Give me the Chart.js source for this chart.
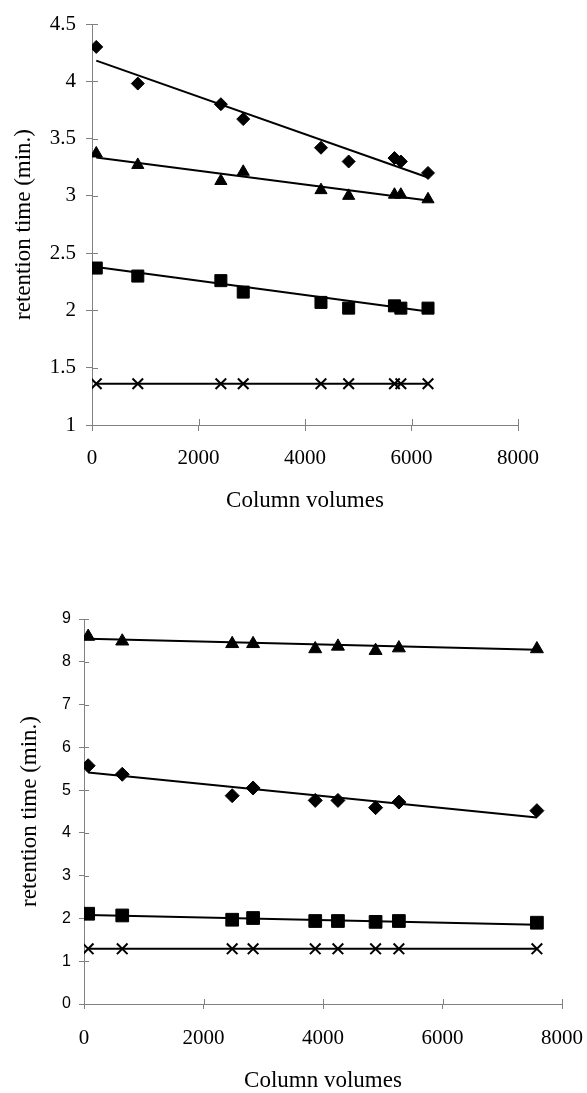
<!DOCTYPE html>
<html>
<head>
<meta charset="utf-8">
<script src="https://cdn.jsdelivr.net/npm/chart.js@4/dist/chart.umd.min.js"></script>
<style>
  body { margin: 0; background: #fff; }
  #wrap { position: relative; width: 587px; height: 1093px; }
  .box { position: absolute; left: 0; width: 587px; }
</style>
</head>
<body>
<div id="wrap">
  <div class="box" style="top:0;height:530px"><canvas id="topChart"></canvas></div>
  <div class="box" style="top:530px;height:563px"><canvas id="bottomChart"></canvas></div>
</div>
<script>
'use strict';

// upper chart
const volTop = [80, 860, 2420, 2840, 4300, 4820, 5680, 5800, 6310];
const diamondTop = [4.30, 3.98, 3.80, 3.67, 3.42, 3.30, 3.33, 3.30, 3.20];
const triangleTop = [3.37, 3.27, 3.13, 3.21, 3.05, 3.00, 3.01, 3.01, 2.97];
const squareTop = [2.37, 2.30, 2.26, 2.16, 2.07, 2.02, 2.04, 2.02, 2.02];
const crossTop = [1.36, 1.36, 1.36, 1.36, 1.36, 1.36, 1.36, 1.36, 1.36];
// trend lines (start, end)
const fitXTop = [80, 6310];
const fitDiamondTop = [4.18, 3.16];
const fitTriangleTop = [3.335, 2.96];
const fitSquareTop = [2.38, 1.99];
const fitCrossTop = [1.36, 1.36];

// lower chart
const volBot = [70, 640, 2480, 2830, 3870, 4250, 4880, 5270, 7580];
const triangleBot = [8.59, 8.48, 8.42, 8.42, 8.30, 8.36, 8.26, 8.32, 8.30];
const diamondBot = [5.57, 5.37, 4.87, 5.05, 4.76, 4.76, 4.59, 4.72, 4.52];
const squareBot = [2.11, 2.07, 1.97, 2.01, 1.94, 1.94, 1.92, 1.94, 1.90];
const crossBot = [1.29, 1.29, 1.29, 1.29, 1.29, 1.29, 1.29, 1.29, 1.29];
const fitXBot = [70, 7580];
const fitTriangleBot = [8.54, 8.28];
const fitDiamondBot = [5.41, 4.36];
const fitSquareBot = [2.08, 1.85];
const fitCrossBot = [1.29, 1.29];

const xTicks = [0, 2000, 4000, 6000, 8000];

const serif = "'Liberation Serif', 'Times New Roman', serif";
const sans = "'Liberation Sans', Arial, sans-serif";
const axisGray = '#808080';

const pts = (xs, ys) => xs.map((x, i) => ({x: x, y: ys[i]}));

const marks = (xs, ys, style, r) => ({
    data: pts(xs, ys),
    showLine: false,
    pointStyle: style,
    pointRadius: r,
    pointBackgroundColor: '#000',
    pointBorderColor: '#000',
    pointBorderWidth: style === 'crossRot' ? 2 : 1
});

const fit = (xs, ys) => ({
    data: pts(xs, ys),
    showLine: true,
    borderColor: '#000',
    borderWidth: 2,
    pointRadius: 0
});

// tick marks that cross the axis line
const crossTicks = {
    id: 'crossTicks',
    beforeDatasetsDraw(chart) {
        const ctx = chart.ctx;
        ctx.save();
        ctx.strokeStyle = axisGray;
        ctx.lineWidth = 1;
        const xs = chart.scales.x, ys = chart.scales.y;
        const len = xs.options.grid.tickLength;
        xs.ticks.forEach(t => {
            const px = Math.round(xs.getPixelForValue(t.value)) + 0.5;
            ctx.beginPath();
            ctx.moveTo(px, xs.top);
            ctx.lineTo(px, xs.top - len);
            ctx.stroke();
        });
        ys.ticks.forEach(t => {
            const py = Math.round(ys.getPixelForValue(t.value)) + 0.5;
            ctx.beginPath();
            ctx.moveTo(ys.right, py);
            ctx.lineTo(ys.right + len, py);
            ctx.stroke();
        });
        ctx.restore();
    }
};

const plain = v => String(v);

function makeOptions(cfg) {
    // x labels pushed down with line height, small padding keeps right edge overflow low
    const xLabelLH = (cfg.xDrop * 2) / 21;
    return {
        responsive: true,
        maintainAspectRatio: false,
        animation: false,
        layout: {padding: {top: cfg.padTop, right: cfg.padRight, left: 0, bottom: 0}},
        plugins: {legend: {display: false}, tooltip: {enabled: false}},
        scales: {
            x: {
                type: 'linear',
                min: 0, max: 8000,
                afterBuildTicks: s => { s.ticks = xTicks.map(v => ({value: v})); },
                afterFit: s => { s.height = cfg.xHeight; },
                border: {display: true, color: axisGray, width: 1},
                grid: {drawOnChartArea: false, drawTicks: true, tickLength: cfg.tick, color: axisGray},
                ticks: {color: '#000', font: {family: serif, size: 21, lineHeight: xLabelLH},
                    padding: 2, maxRotation: 0, callback: plain},
                title: {display: true, text: 'Column volumes', color: '#000',
                    font: {family: serif, size: 23, lineHeight: 1.05}, padding: {top: 0, bottom: cfg.xTitlePad}}
            },
            y: {
                type: 'linear',
                min: cfg.yMin, max: cfg.yMax,
                ticks: {stepSize: cfg.yStep, color: '#000', font: cfg.yFont, padding: cfg.yPad, callback: plain},
                afterFit: s => { s.width = cfg.yWidth; },
                border: {display: true, color: axisGray, width: 1},
                grid: {drawOnChartArea: false, drawTicks: true, tickLength: cfg.tick, color: axisGray},
                title: {display: true, text: 'retention time (min.)', color: '#000',
                    font: {family: serif, size: 23}, padding: {top: cfg.yTitlePad, bottom: 0}}
            }
        }
    };
}

const topChart = new Chart(document.getElementById('topChart').getContext('2d'), {
    type: 'scatter',
    data: {
        datasets: [
            fit(fitXTop, fitDiamondTop),
            fit(fitXTop, fitTriangleTop),
            fit(fitXTop, fitSquareTop),
            fit(fitXTop, fitCrossTop),
            marks(volTop, diamondTop, 'rectRot', 6.5),
            marks(volTop, triangleTop, 'triangle', 7),
            marks(volTop, squareTop, 'rect', 8.5),
            marks(volTop, crossTop, 'crossRot', 7.5)
        ]
    },
    options: makeOptions({
        padTop: 24, padRight: 69, xHeight: 105, yWidth: 92, tick: 6,
        xDrop: 25, xTitlePad: 17, yPad: 10, yTitlePad: 10,
        yMin: 1, yMax: 4.5, yStep: 0.5, yFont: {family: serif, size: 21}
    }),
    plugins: [crossTicks]
});

const bottomChart = new Chart(document.getElementById('bottomChart').getContext('2d'), {
    type: 'scatter',
    data: {
        datasets: [
            fit(fitXBot, fitTriangleBot),
            fit(fitXBot, fitDiamondBot),
            fit(fitXBot, fitSquareBot),
            fit(fitXBot, fitCrossBot),
            marks(volBot, triangleBot, 'triangle', 7.5),
            marks(volBot, diamondBot, 'rectRot', 7),
            marks(volBot, squareBot, 'rect', 9),
            marks(volBot, crossBot, 'crossRot', 7.5)
        ]
    },
    options: makeOptions({
        padTop: 89, padRight: 25, xHeight: 89, yWidth: 84, tick: 5,
        xDrop: 27.5, xTitlePad: 0, yPad: 8, yTitlePad: 16,
        yMin: 0, yMax: 9, yStep: 1, yFont: {family: sans, size: 16}
    }),
    plugins: [crossTicks]
});
</script>
</body>
</html>
